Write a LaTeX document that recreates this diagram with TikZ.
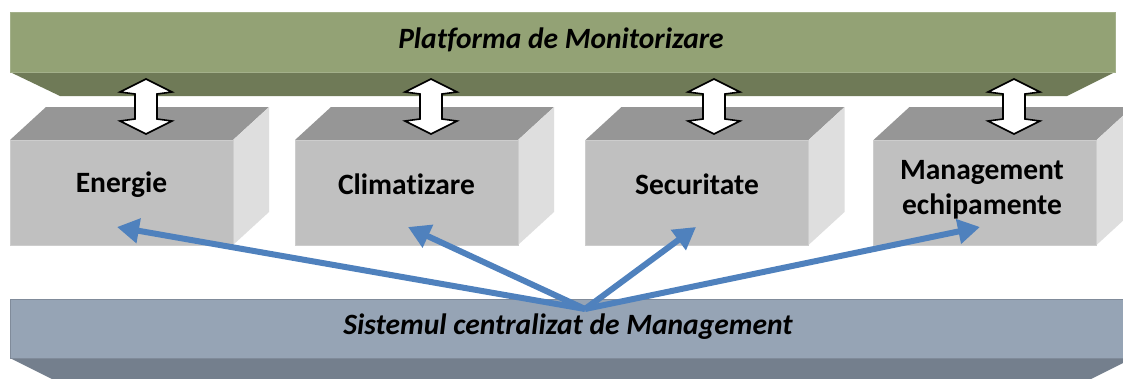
\documentclass[tikz,border=0pt]{standalone}
\usepackage{fontspec}
\setmainfont{Carlito}[Ligatures={NoCommon}]
\usetikzlibrary{arrows.meta}
\definecolor{greenface}{RGB}{147,162,117}
\definecolor{greenunder}{RGB}{111,122,87}
\definecolor{blueface}{RGB}{150,164,181}
\definecolor{blueunder}{RGB}{116,127,141}
\definecolor{boxfront}{RGB}{192,192,192}
\definecolor{boxtop}{RGB}{150,150,150}
\definecolor{boxside}{RGB}{222,222,222}
\definecolor{linkblue}{RGB}{79,129,189}
\tikzset{
  frontface/.style={fill=boxfront, draw=boxfront!80!white, line width=0.6pt, minimum width=223pt, minimum height=105pt, inner sep=0pt},
  boxlabel/.style={font=\fontsize{29.5}{35}\selectfont\bfseries, align=center, text=black},
  barlabel/.style={font=\fontsize{29.5}{35}\selectfont\bfseries\itshape, text=black},
  updown/.style={fill=white, draw=black, line width=1.6pt, line join=miter},
  link/.style={draw=linkblue, line width=6pt, -{Triangle[length=22pt,width=24pt]}}
}
\begin{document}
\begin{tikzpicture}[x=1pt,y=-1pt]
\clip (0,0) rectangle (1123,378);
\fill[white] (0,0) rectangle (1123,378);
% top bar
\fill[greenunder] (10,72) -- (1115,72) -- (1067,96) -- (60,96) -- cycle;
\node[fill=greenface, draw=greenface!85!white, minimum width=1105pt, minimum height=60pt, inner sep=0pt] (top) at (562.5,42) {};
\node[barlabel] (toplabel) at (561,40) {Platforma de Monitorizare};
% bottom bar
\fill[blueunder] (10,358) -- (1133,358) -- (1085,382) -- (58,382) -- cycle;
\node[fill=blueface, draw=blueface!85!black, minimum width=1123pt, minimum height=59pt, inner sep=0pt] (bottom) at (571.5,328.5) {};
\node[barlabel] (bottomlabel) at (568,327) {Sistemul centralizat de Management};
% boxes
\foreach \n/\cx in {b1/121.5, b2/406.5, b3/697, b4/985} {
  \fill[boxtop] (\cx-111.5,140) -- (\cx-111.5+36,107) -- (\cx+111.5+36,107) -- (\cx+111.5,140) -- cycle;
  \fill[boxside] (\cx+111.5,140) -- (\cx+111.5+36,107) -- (\cx+111.5+36,212) -- (\cx+111.5,245) -- cycle;
  \node[frontface] (\n) at (\cx,192.5) {};
}
\node[boxlabel] (l1) at ([yshift=8pt]b1.center) {Energie};
\node[boxlabel] (l2) at ([yshift=8pt]b2.center) {Climatizare};
\node[boxlabel] (l3) at ([yshift=8pt]b3.center) {Securitate};
\node[boxlabel] (l4) at ([yshift=3pt,xshift=-3pt]b4.center) {Management\\echipamente};
% double arrows between platform and boxes
\foreach \n/\ax in {d1/146, d2/431, d3/714, d4/1014} {
  \coordinate (\n) at (\ax,106.5);
  \draw[updown] (\n) ++(0,-27.5) -- ++(26,13) -- ++(-15,2) -- ++(0,25) -- ++(15,2) -- ++(-26,13)
     -- ++(-26,-13) -- ++(15,-2) -- ++(0,-25) -- ++(-15,-2) -- cycle;
}
% blue links
\coordinate (hub) at (585,309);
\coordinate (t1) at (117,227);
\coordinate (t2) at (408,227);
\coordinate (t3) at (696,227);
\coordinate (t4) at (980,227);
\foreach \t in {t1,t2,t3,t4} \draw[link] (hub) -- (\t);
\end{tikzpicture}
\end{document}
